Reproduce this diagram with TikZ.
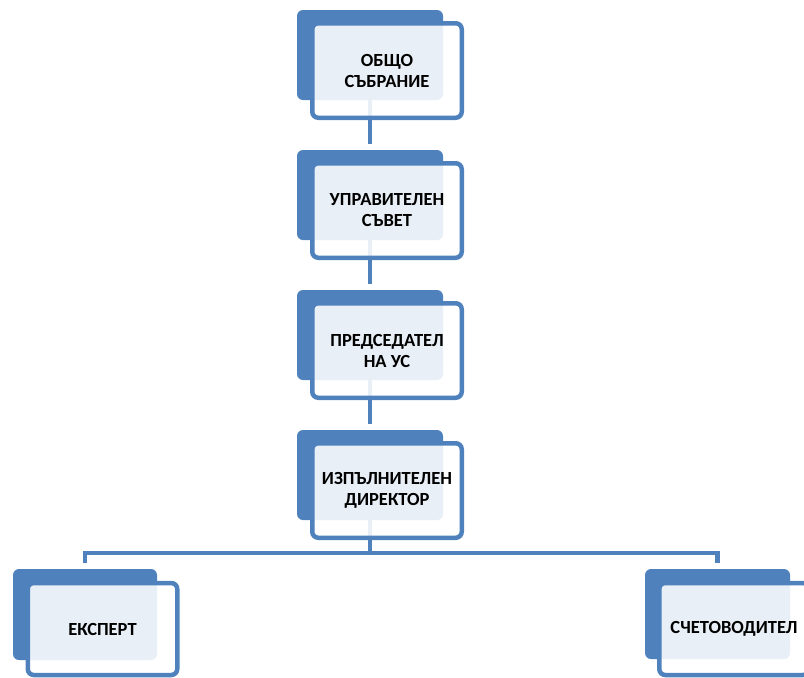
\documentclass[tikz,border=0pt]{standalone}
\usepackage{fontspec}
\setmainfont{Carlito}
\definecolor{obl}{HTML}{4F81BD}
\begin{document}
\begin{tikzpicture}[x=1pt,y=-1pt,
  back/.style={draw=none, fill=obl, rounded corners=6pt, minimum width=146pt, minimum height=90pt, inner sep=0pt, outer sep=0pt, anchor=north west},
  front/.style={draw=obl, line width=4.5pt, fill=white, fill opacity=0.88, text opacity=1, rounded corners=6pt, minimum width=149.5pt, minimum height=94.5pt, inner sep=0pt, outer sep=0pt, align=center, font=\fontsize{18.5pt}{21pt}\selectfont\bfseries},
  conn/.style={draw=obl, line width=4.5pt}]
\useasboundingbox (0,0) rectangle (804,678);
\clip (0,0) rectangle (804,678);
% back rectangles
\node[back] (b1) at (297,10) {};
\node[back] (b2) at (297,150) {};
\node[back] (b3) at (297,290) {};
\node[back] (b4) at (297,430) {};
\node[back, minimum width=144pt, minimum height=91pt] (b5) at (13,569) {};
\node[back, minimum width=145pt, minimum height=90pt] (b6) at (645,569) {};
% connectors
\coordinate (bus) at (370,553);
\draw[conn, shorten >=6pt] (b1.south) -- (b2.north);
\draw[conn, shorten >=6pt] (b2.south) -- (b3.north);
\draw[conn, shorten >=6pt] (b3.south) -- (b4.north);
\draw[conn] (b4.south) -- (bus);
\draw[conn, shorten <=6pt, shorten >=6pt] (b5.north) -- (b5.north |- bus) -- (b6.north |- bus) -- (b6.north);
% front boxes
\node[front] (f1) at (387,70.5) {ОБЩО\\СЪБРАНИЕ};
\node[front] (f2) at (387,210.5) {УПРАВИТЕЛЕН\\СЪВЕТ};
\node[front] (f3) at (387,350.5) {ПРЕДСЕДАТЕЛ\\НА УС};
\node[front] (f4) at (387,490.5) {ИЗПЪЛНИТЕЛЕН\\ДИРЕКТОР};
\node[front, minimum height=92pt] (f5) at (102.5,629) {ЕКСПЕРТ};
\node[front, minimum height=92pt] (f6) at (734,629) {СЧЕТОВОДИТЕЛ};
\end{tikzpicture}
\end{document}
